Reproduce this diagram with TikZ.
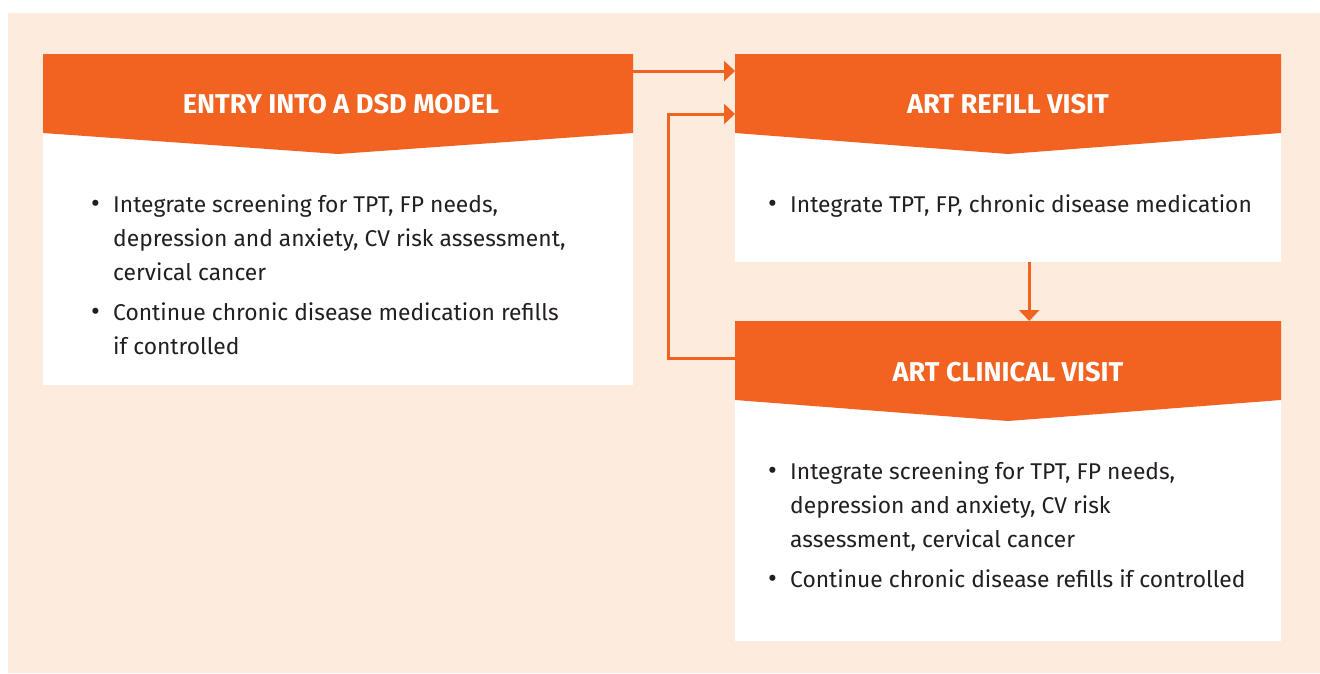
\documentclass[tikz,border=0pt]{standalone}
\usepackage{fontspec}
\setmainfont{Fira Sans}
\usetikzlibrary{arrows.meta}
\definecolor{dsdorange}{RGB}{242,99,34}
\definecolor{dsdpeach}{RGB}{253,235,222}
\definecolor{dsdtext}{RGB}{35,31,32}
\tikzset{
  boxbody/.style={draw=none,fill=white,rectangle,inner sep=0pt,anchor=north west},
  headtext/.style={text=white,font=\fontsize{27.2}{30}\selectfont\bfseries,inner sep=0pt},
  bodytext/.style={anchor=north west,inner sep=0pt,align=left,font=\fontsize{22.8}{34}\selectfont,text=dsdtext},
  flow/.style={draw=dsdorange,line width=3pt,-{Triangle[length=11pt,width=20pt]}}
}
\newcommand{\headshape}[3]{% x1, x2, ytop
  \fill[dsdorange] (#1,#3) -- (#2,#3) -- (#2,#3+79) -- ({(#1+#2)/2},#3+100) -- (#1,#3+79) -- cycle;}
\newcommand{\bul}{\hspace*{3pt}{\fontsize{27}{34}\selectfont\textbullet}}
\begin{document}
\begin{tikzpicture}[x=1pt,y=-1pt]
\useasboundingbox (0,0) rectangle (1320,673);
\fill[dsdpeach] (8,13) rectangle (1320,673);
% boxes
\node[boxbody,minimum width=590pt,minimum height=331pt] (box1) at (43,54) {};
\node[boxbody,minimum width=546pt,minimum height=208pt] (box2) at (735,54) {};
\node[boxbody,minimum width=546pt,minimum height=320pt] (box3) at (735,321) {};
\headshape{43}{633}{54}
\headshape{735}{1281}{54}
\headshape{735}{1281}{321}
\node[headtext] (t1) at (341,104) {ENTRY INTO A DSD MODEL};
\node[headtext] (t2) at (1008,104) {ART REFILL VISIT};
\node[headtext] (t3) at (1008,372) {ART CLINICAL VISIT};
% body texts
\node[bodytext] (b1) at (88,188) {\begin{tabular}{@{}p{25pt}@{}l@{}}
\bul & Integrate screening for TPT, FP needs,\\
 & depression and anxiety, CV risk assessment,\\
 & cervical cancer\\[6pt]
\bul & Continue chronic disease medication refills\\
 & if controlled
\end{tabular}};
\node[bodytext] (b2) at (765,188) {\begin{tabular}{@{}p{25pt}@{}l@{}}
\bul & Integrate TPT, FP, chronic disease medication
\end{tabular}};
\node[bodytext] (b3) at (765,455) {\begin{tabular}{@{}p{25pt}@{}l@{}}
\bul & Integrate screening for TPT, FP needs,\\
 & depression and anxiety, CV risk\\
 & assessment, cervical cancer\\[6pt]
\bul & Continue chronic disease refills if controlled
\end{tabular}};
% connectors
\coordinate (bend1) at (668,358);
\coordinate (bend2) at (668,114);
\draw[flow] ([yshift=-17pt]box1.north east) -- ([yshift=-17pt]box2.north west);
\draw[flow] ([yshift=-37pt]box3.north west) -- (bend1) -- (bend2) -- ([yshift=-60pt]box2.north west);
\draw[flow] ([xshift=21pt]box2.south) -- ([xshift=21pt]box3.north);
\end{tikzpicture}
\end{document}
